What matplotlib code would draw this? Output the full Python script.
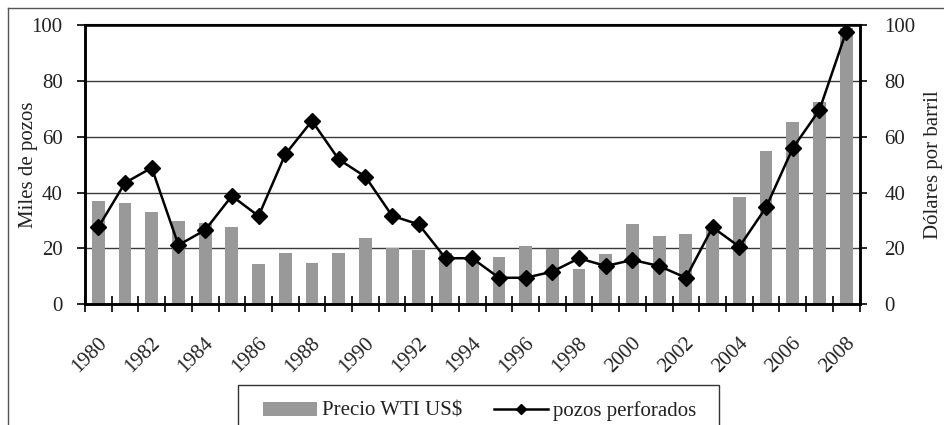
import matplotlib
matplotlib.use("Agg")
import matplotlib.pyplot as plt
from matplotlib.lines import Line2D
from matplotlib.patches import Rectangle
from matplotlib.transforms import ScaledTranslation
import numpy as np

years = list(range(1980, 2009))
precio_wti = [37.0, 36.2, 33.2, 29.8, 29.0, 27.7, 14.4, 18.4, 14.9, 18.3,
              23.7, 20.0, 19.4, 18.5, 17.2, 17.0, 20.8, 19.7, 12.7, 18.0,
              28.6, 24.6, 25.1, 28.0, 38.3, 54.9, 65.2, 72.5, 99.0]
pozos = [27.6, 43.5, 48.9, 21.2, 26.6, 38.8, 31.6, 53.7, 65.7, 51.9,
         45.7, 31.7, 28.6, 16.5, 16.5, 9.5, 9.5, 11.7, 16.5, 13.7,
         15.9, 13.7, 9.5, 27.6, 20.6, 34.7, 55.9, 69.6, 97.6]
label_years = [str(y) for y in range(1980, 2009, 2)]
y_ticks = [0, 20, 40, 60, 80, 100]

plt.rcParams['font.family'] = ['Liberation Serif', 'DejaVu Serif']
fs = 15
W, H = 944, 425

fig = plt.figure(figsize=(W / 100, H / 100), dpi=100)
ax = fig.add_axes([0.090, 0.284, 0.8205, 0.657])
ax2 = ax.twinx()

x = np.arange(len(years))

# bars on the right (price) axis
ax2.bar(x, precio_wti, width=0.48, color='#999999', zorder=2,
        label='Precio WTI US$')
ax2.set_ylim(0, 100)
ax2.set_yticks(y_ticks)
ax2.yaxis.grid(True, color='#3a3a3a', linewidth=1.0, zorder=0)
ax2.set_axisbelow(True)

# line on the left (wells) axis, drawn on top
ax.set_zorder(ax2.get_zorder() + 1)
ax.patch.set_visible(False)
ax.plot(x, pozos, color='black', linewidth=1.8, marker='D', markersize=8.3,
        markerfacecolor='black', markeredgecolor='black', zorder=3,
        label='pozos perforados')
ax.set_ylim(0, 100)
ax.set_yticks(y_ticks)
ax.set_xlim(-0.5, len(years) - 0.5)

# x ticks: boundaries (major, cross ticks) and labels at every other category
ax.set_xticks(np.arange(-0.5, len(years), 1.0))
ax.set_xticklabels([])
ax.tick_params(axis='x', which='major', direction='inout', length=11,
               width=1.2, color='black')
ax.set_xticks(x[::2], minor=True)
ax.set_xticklabels(label_years, minor=True, rotation=45, ha='right',
                   rotation_mode='anchor', fontsize=fs, color='#222222')
ax.tick_params(axis='x', which='minor', length=0, pad=21)
shift = ScaledTranslation(-1 / 100, 0, fig.dpi_scale_trans)
for lab in ax.get_xticklabels(minor=True):
    lab.set_transform(lab.get_transform() + shift)

ax.tick_params(axis='y', direction='out', length=6, width=1.2,
               labelsize=fs, labelcolor='#222222', pad=10)
ax2.tick_params(axis='y', direction='out', length=5, width=1.2,
                labelsize=fs, labelcolor='#222222', pad=13)

for a in (ax, ax2):
    for s in a.spines.values():
        s.set_color('black')
        s.set_linewidth(1.8)
ax2.spines['top'].set_linewidth(1.5)

ax.set_ylabel('Miles de pozos', fontsize=fs, color='#222222')
ax.yaxis.set_label_coords(-0.060, 0.5)
ax2.set_ylabel('Dólares por barril', fontsize=fs, color='#222222')
ax2.yaxis.set_label_coords(1.083, 0.5)

# legend (frame drawn separately so its width matches the reference)
h1, l1 = ax2.get_legend_handles_labels()
h2, l2 = ax.get_legend_handles_labels()
leg = fig.legend(h1 + h2, l1 + l2, loc='upper center',
                 bbox_to_anchor=(0.508, 0.081), ncol=2, fontsize=fs,
                 frameon=False, handlelength=2.6, markerscale=0.6,
                 handleheight=0.65, handletextpad=0.25, columnspacing=1.5,
                 borderpad=0.5, borderaxespad=0.0)
for t in leg.get_texts():
    t.set_color('#222222')
fig.add_artist(Rectangle((238 / W, -0.05), (719 - 238) / W, 0.05 + (H - 385) / H,
                         transform=fig.transFigure, fill=False,
                         edgecolor='#333333', linewidth=1.0))

# outer frame (top and left edges visible)
fig.add_artist(Line2D([8 / W, 8 / W], [0, 1 - 8 / H],
                      transform=fig.transFigure, color='#555555', linewidth=1.0))
fig.add_artist(Line2D([8 / W, 1], [1 - 8 / H, 1 - 8 / H],
                      transform=fig.transFigure, color='#555555', linewidth=1.0))

fig.savefig('out.png', dpi=100)
